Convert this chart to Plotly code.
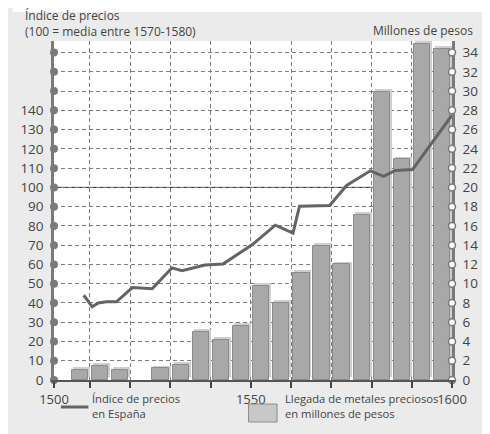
import plotly.graph_objects as go

# ---------------- data ----------------
periods = [1505, 1510, 1515, 1525, 1530, 1535, 1540, 1545, 1550, 1555,
           1560, 1565, 1570, 1575, 1580, 1585, 1590, 1595]
metals = [1.0, 1.5, 1.0, 1.2, 1.55, 5.0, 4.15, 5.65, 9.8, 8.0,
          11.1, 13.9, 12.0, 17.1, 29.9, 22.9, 34.9, 34.4]

price_years = [1508.5, 1510.6, 1512.1, 1514.1, 1516.6, 1520.6, 1525.5, 1530.4,
               1532.9, 1538.6, 1543.1, 1550.4, 1556.1, 1560.5, 1562.1, 1569.6,
               1573.8, 1579.7, 1583.0, 1585.9, 1590.2, 1600.0]
price_index = [44, 38, 40, 40.6, 40.6, 48, 47.4, 58.2,
               56.7, 59.7, 60.2, 70.3, 80.4, 76.3, 90.2, 90.6,
               101, 108.6, 105.7, 108.8, 109.3, 137.5]

index_ticks = list(range(0, 171, 10))
index_labels = [str(v) if v <= 140 else "" for v in index_ticks]
pesos_ticks = list(range(0, 35, 2))
pesos_labels = [str(v) for v in pesos_ticks]
x_start = 1501.1
decade_ticks = [x_start] + list(range(1510, 1601, 10))
decade_labels = ["1500"] + ["1550" if d == 1550 else ("1600" if d == 1600 else "") for d in range(1510, 1601, 10)]
reference_index = 100

# ---------------- layout geometry (figure pixels) ----------------
W, H = 482, 426
ML, MR, MT, MB = 42, 35, 33, 54
PW, PH = W - ML - MR, H - MT - MB
def px(x):
    return (x - ML) / PW
def py(y):
    return (H - MB - y) / PH

FONT = "Open Sans"
TXT = "#444444"
AX = "#7a7a7a"
GRID = "#7c7c7c"

fig = go.Figure()

# shadow of bars
fig.add_trace(go.Bar(x=periods, y=metals, base=0.3, offset=0.8, width=4.25,
                     marker=dict(color="#cfcfcf", line=dict(width=0)),
                     yaxis="y", hoverinfo="skip", showlegend=False))
# main bars
fig.add_trace(go.Bar(x=periods, y=metals, offset=0.55, width=4.05,
                     marker=dict(color="#a8a8a8", line=dict(color="#8c8c8c", width=1)),
                     yaxis="y", showlegend=False, name="Llegada de metales preciosos"))
# right axis open circles
fig.add_trace(go.Scatter(x=[1600] * len(pesos_ticks), y=pesos_ticks, mode="markers",
                         marker=dict(size=7, color="white", line=dict(color=AX, width=1.5)),
                         yaxis="y", cliponaxis=False, hoverinfo="skip", showlegend=False))
# price line
fig.add_trace(go.Scatter(x=price_years, y=price_index, mode="lines",
                         line=dict(color="#646464", width=3),
                         yaxis="y2", showlegend=False, name="Índice de precios"))
# left axis dots
fig.add_trace(go.Scatter(x=[x_start] * len(index_ticks), y=index_ticks, mode="markers",
                         marker=dict(size=8, color=AX),
                         yaxis="y2", cliponaxis=False, hoverinfo="skip", showlegend=False))

shapes = [
    # white top strip
    dict(type="rect", xref="paper", yref="paper", x0=px(0), x1=px(W), y0=py(4), y1=py(0),
         fillcolor="white", line=dict(width=0), layer="below"),
    # reference line at 100
    dict(type="line", xref="x", yref="y2", x0=x_start, x1=1600, y0=reference_index, y1=reference_index,
         line=dict(color="#222222", width=1), layer="below"),
    # legend line sample
    dict(type="line", xref="paper", yref="paper", x0=px(49), x1=px(77), y0=py(399), y1=py(399),
         line=dict(color="#646464", width=3)),
    # legend box
    dict(type="rect", xref="paper", yref="paper", x0=px(240), x1=px(269), y0=py(414), y1=py(396),
         fillcolor="#c8c8c8", line=dict(color="#8c8c8c", width=1)),
]

annotations = [
    dict(text="Índice de precios<br>(100 = media entre 1570-1580)", xref="paper", yref="paper",
         x=px(10), y=py(15.5), xanchor="left", yanchor="middle", align="left", showarrow=False,
         font=dict(size=12, color=TXT, family=FONT)),
    dict(text="Millones de pesos", xref="paper", yref="paper", x=px(470), y=py(22),
         xanchor="right", yanchor="middle", showarrow=False, font=dict(size=12, color=TXT, family=FONT)),
    dict(text="Índice de precios<br>en España", xref="paper", yref="paper", x=px(79), y=py(398),
         xanchor="left", yanchor="middle", align="left", showarrow=False,
         font=dict(size=11.2, color=TXT, family=FONT)),
    dict(text="Llegada de metales preciosos<br>en millones de pesos", xref="paper", yref="paper",
         x=px(275), y=py(398), xanchor="left", yanchor="middle", align="left", showarrow=False,
         font=dict(size=11.2, color=TXT, family=FONT)),
]

fig.update_layout(
    width=W, height=H,
    margin=dict(l=ML, r=MR, t=MT, b=MB, pad=0),
    paper_bgcolor="#ebebeb", plot_bgcolor="white",
    barmode="overlay", bargap=0,
    showlegend=False,
    font=dict(family=FONT, color=TXT, size=13),
    shapes=shapes, annotations=annotations,
    xaxis=dict(range=[x_start, 1600], tickvals=decade_ticks, ticktext=decade_labels,
               showgrid=True, gridcolor=GRID, gridwidth=1.3, griddash="4px,3px",
               showline=True, linecolor="#555555", linewidth=2,
               ticks="outside", ticklen=6, tickwidth=1.5, tickcolor="#444444",
               tickfont=dict(size=13, color=TXT), zeroline=False, fixedrange=True),
    yaxis=dict(range=[0, 35.2], side="right", tickvals=pesos_ticks, ticktext=pesos_labels,
               showgrid=False, zeroline=False, showline=True, linecolor=AX, linewidth=2.5,
               ticks="outside", ticklen=5, tickcolor="rgba(0,0,0,0)",
               tickfont=dict(size=13.5, color=TXT), layer="below traces"),
    yaxis2=dict(range=[0, 176], side="left", overlaying="y", tickvals=index_ticks, ticktext=index_labels,
                showgrid=True, gridcolor=GRID, gridwidth=1.3, griddash="4px,3px",
                zeroline=False, showline=True, linecolor=AX, linewidth=2.5,
                ticks="outside", ticklen=5, tickcolor="rgba(0,0,0,0)",
                tickfont=dict(size=13.5, color=TXT), layer="below traces"),
)

fig.write_html("out.html")
